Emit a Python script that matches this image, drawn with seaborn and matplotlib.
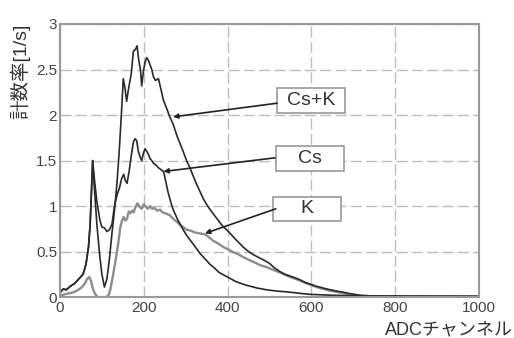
import numpy as np
import pandas as pd
import seaborn as sns
import matplotlib.pyplot as plt
from matplotlib.patches import Rectangle
from matplotlib.ticker import MultipleLocator

# Count rate spectra (ADC channel vs rate [1/s])
cs_k_ch = [0, 8, 15, 25, 35, 45, 55, 62, 68, 72, 75, 78, 82, 88, 95, 100, 106, 112, 118, 124,
           130, 136, 142, 147, 151, 155, 159, 164, 170, 175, 180, 184, 188, 192, 195, 199, 203,
           207, 211, 215, 219, 223, 228, 235, 241, 247, 254, 262, 270, 280, 287, 294, 302, 310,
           318, 325, 333, 342, 351, 360, 368, 375, 383, 390, 400, 410, 420, 437, 450, 460, 472,
           485, 500, 512, 525, 537, 550, 562, 573, 585, 600, 610, 620, 632, 645, 656, 668, 680,
           690, 703, 716, 730, 750, 775, 800, 830, 860, 900, 940, 970, 1000]
cs_k_rate = [0.05, 0.09, 0.08, 0.12, 0.15, 0.20, 0.25, 0.36, 0.55, 0.80, 1.15, 1.50, 1.20, 0.80,
             0.45, 0.25, 0.11, 0.20, 0.42, 0.70, 0.95, 1.25, 1.65, 2.05, 2.40, 2.30, 2.15, 2.30,
             2.45, 2.70, 2.72, 2.76, 2.60, 2.50, 2.32, 2.48, 2.58, 2.63, 2.60, 2.55, 2.50, 2.42,
             2.38, 2.40, 2.28, 2.16, 2.08, 1.98, 1.90, 1.76, 1.68, 1.60, 1.50, 1.42, 1.33, 1.25,
             1.17, 1.08, 1.01, 0.95, 0.90, 0.86, 0.81, 0.77, 0.73, 0.68, 0.63, 0.55, 0.50, 0.47,
             0.44, 0.41, 0.37, 0.32, 0.28, 0.25, 0.23, 0.21, 0.19, 0.16, 0.14, 0.12, 0.11, 0.095,
             0.08, 0.07, 0.06, 0.05, 0.04, 0.03, 0.02, 0.016, 0.012, 0.010, 0.012, 0.008, 0.010,
             0.007, 0.009, 0.006, 0.008]

cs_ch = [0, 8, 15, 25, 35, 45, 55, 62, 68, 72, 75, 78, 82, 88, 95, 100, 106, 112, 118, 124, 130,
         136, 142, 147, 152, 156, 160, 165, 170, 175, 179, 183, 187, 191, 195, 199, 203, 207, 211,
         215, 219, 223, 229, 235, 241, 247, 252, 258, 264, 270, 276, 282, 288, 294, 302, 310, 320,
         334, 342, 350, 358, 366, 373, 380, 390, 400, 410, 420, 432, 445, 458, 470, 482, 493, 507,
         520, 540, 557, 575, 597, 625, 650, 675, 700, 730, 760, 800, 850, 900, 950, 1000]
cs_rate = [0.05, 0.09, 0.08, 0.12, 0.15, 0.20, 0.25, 0.36, 0.55, 0.80, 1.15, 1.50, 1.30, 1.05,
           0.85, 0.77, 0.76, 0.72, 0.74, 0.80, 1.00, 1.12, 1.20, 1.30, 1.35, 1.28, 1.25, 1.38,
           1.55, 1.70, 1.74, 1.72, 1.60, 1.54, 1.50, 1.58, 1.63, 1.60, 1.57, 1.52, 1.50, 1.47,
           1.45, 1.42, 1.40, 1.38, 1.28, 1.15, 1.05, 0.96, 0.90, 0.84, 0.79, 0.74, 0.68, 0.63,
           0.57, 0.48, 0.44, 0.40, 0.36, 0.33, 0.30, 0.27, 0.245, 0.22, 0.195, 0.17, 0.15, 0.13,
           0.115, 0.10, 0.09, 0.08, 0.072, 0.065, 0.058, 0.05, 0.04, 0.03, 0.025, 0.02, 0.018,
           0.015, 0.013, 0.012, 0.011, 0.010, 0.010, 0.009, 0.009]

k_ch = [0, 10, 20, 30, 40, 50, 58, 65, 70, 74, 78, 82, 86, 90, 100, 110, 116, 120, 125, 130, 135,
        140, 144, 148, 152, 156, 160, 164, 168, 172, 176, 180, 185, 190, 195, 200, 205, 210, 215,
        220, 225, 232, 239, 245, 252, 262, 270, 278, 285, 294, 302, 312, 322, 333, 346, 355, 365,
        377, 390, 403, 415, 426, 437, 450, 465, 478, 493, 508, 525, 537, 550, 562, 573, 587, 600,
        610, 620, 632, 645, 656, 668, 680, 690, 703, 716, 735, 750, 780, 820, 870, 920, 960, 1000]
k_rate = [0.01, 0.03, 0.04, 0.05, 0.07, 0.10, 0.14, 0.20, 0.22, 0.18, 0.10, 0.05, 0.02, 0.0, 0.0,
          0.0, 0.02, 0.08, 0.20, 0.33, 0.47, 0.62, 0.77, 0.84, 0.88, 0.84, 0.86, 0.94, 0.92, 0.95,
          0.93, 0.99, 1.03, 0.99, 0.97, 1.02, 0.99, 0.97, 1.00, 0.97, 0.98, 0.95, 0.96, 0.93, 0.92,
          0.90, 0.86, 0.83, 0.80, 0.77, 0.74, 0.73, 0.71, 0.70, 0.69, 0.66, 0.62, 0.59, 0.55, 0.52,
          0.49, 0.47, 0.44, 0.41, 0.38, 0.35, 0.33, 0.30, 0.27, 0.245, 0.22, 0.20, 0.18, 0.155,
          0.13, 0.115, 0.10, 0.085, 0.07, 0.06, 0.05, 0.04, 0.03, 0.022, 0.015, 0.01, 0.008, 0.006,
          0.005, 0.005, 0.004, 0.005, 0.004]

# label boxes: text, box centre, leader start (box edge), leader target on curve
labels = ['Cs+K', 'Cs', 'K']
label_pos = [(599, 2.16), (597, 1.52), (590, 0.97)]
leader_from = [(518, 2.13), (513, 1.53), (515, 0.97)]
leader_to = [(270, 1.98), (247, 1.38), (346, 0.70)]

sns.set_style('white')
plt.rcParams['font.family'] = ['Liberation Sans', 'Noto Sans CJK JP', 'DejaVu Sans']

df = pd.concat([
    pd.DataFrame({'ch': cs_k_ch, 'rate': cs_k_rate, 'src': 'Cs+K'}),
    pd.DataFrame({'ch': cs_ch, 'rate': cs_rate, 'src': 'Cs'}),
    pd.DataFrame({'ch': k_ch, 'rate': k_rate, 'src': 'K'}),
])

fig = plt.figure(figsize=(5.14, 3.38), dpi=100)
ax = fig.add_axes([0.1167, 0.121, 0.8153, 0.808])

sns.lineplot(data=df, x='ch', y='rate', hue='src', estimator=None, legend=False,
             palette={'Cs+K': '#2a2a2a', 'Cs': '#2a2a2a', 'K': '#8c8c8c'},
             hue_order=['K', 'Cs', 'Cs+K'], linewidth=1.2, ax=ax)
ax.lines[0].set_linewidth(1.7)

ax.set_xlim(0, 1000)
ax.set_ylim(0, 3)
ax.xaxis.set_major_locator(MultipleLocator(200))
ax.xaxis.set_minor_locator(MultipleLocator(50))
ax.yaxis.set_major_locator(MultipleLocator(0.5))
ax.yaxis.set_minor_locator(MultipleLocator(0.1))
ax.set_yticks([0, 0.5, 1, 1.5, 2, 2.5, 3])
ax.set_yticklabels(['0', '0.5', '1', '1.5', '2', '2.5', '3'])
ax.tick_params(which='both', direction='in', top=False, right=False, colors='#888888',
               labelcolor='#444444', labelsize=11)
ax.tick_params(which='major', length=7, width=1)
ax.tick_params(which='minor', length=4, width=0.8)
ax.tick_params(axis='x', pad=3)
ax.tick_params(axis='y', pad=2)

ax.grid(True, which='major', color='#bdbdbd', linestyle=(0, (8, 3)), linewidth=1)
for s in ax.spines.values():
    s.set_color('#999999')
    s.set_linewidth(1.5)

ax.set_xlabel('')
ax.set_ylabel('計数率[1/s]', fontsize=14, color='#333333', loc='top', labelpad=4)
fig.text(0.997, 0.012, 'ADCチャンネル', ha='right', va='baseline', fontsize=13, color='#333333')

bw, bh = 162, 0.27
for txt, (cx, cy), p0, p1 in zip(labels, label_pos, leader_from, leader_to):
    ax.add_patch(Rectangle((cx - bw / 2, cy - bh / 2), bw, bh, facecolor='white',
                           edgecolor='#9a9a9a', linewidth=1.2, zorder=5))
    ax.text(cx, cy, txt, ha='center', va='center', fontsize=14, color='#333333', zorder=6)
    ax.annotate('', xy=p1, xytext=p0, zorder=6,
                arrowprops=dict(arrowstyle='-|>', color='#222222', lw=1.2,
                                mutation_scale=7, shrinkA=0, shrinkB=0))

fig.savefig('out.png', dpi=100)
